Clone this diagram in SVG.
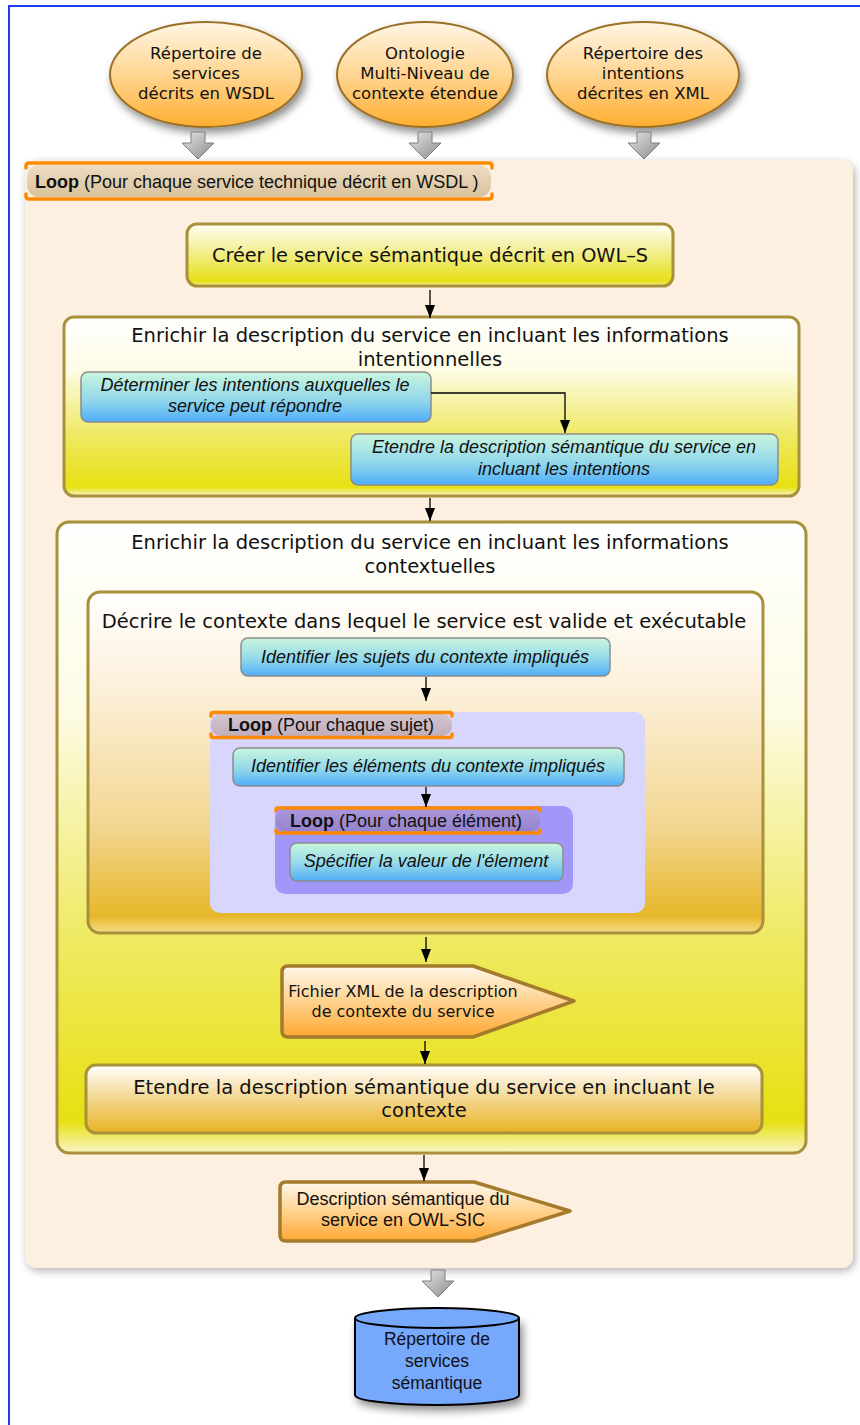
<svg xmlns="http://www.w3.org/2000/svg" width="860" height="1425" viewBox="0 0 860 1425">
<defs>
<style>
.lu{font-family:"DejaVu Sans",Verdana,sans-serif;fill:#111;}
.ar{font-family:"Liberation Sans",Arial,sans-serif;fill:#111;}
.it{font-family:"Liberation Sans",Arial,sans-serif;font-style:italic;font-size:18px;fill:#111;}
.ybox{fill:url(#gYel);stroke:#A8913A;stroke-width:3;}
.bbox{fill:url(#gBlue);stroke:#8C8C8C;stroke-width:1.5;}
.conn{fill:none;stroke:#000;stroke-width:1.3;marker-end:url(#ah);}
.brk{fill:none;stroke:#FF8A00;stroke-width:3.5;stroke-linecap:round;}
.garr{fill:url(#gGray);stroke:#7E7E7E;stroke-width:1;}
.pent{fill:url(#gOr);stroke:#A47A2C;stroke-width:3.5;stroke-linejoin:round;}
</style>
<linearGradient id="gYel" x1="0" y1="0" x2="0" y2="1">
<stop offset="0" stop-color="#FFFFF6"/><stop offset="0.35" stop-color="#F5F1A8"/><stop offset="0.92" stop-color="#E7E015"/><stop offset="1" stop-color="#F4F0A0"/>
</linearGradient>
<linearGradient id="gYel2" x1="0" y1="0" x2="0" y2="1">
<stop offset="0" stop-color="#FFFFFF"/><stop offset="0.3" stop-color="#FDFBE4"/><stop offset="0.65" stop-color="#EFEA66"/><stop offset="0.95" stop-color="#E7E012"/><stop offset="1" stop-color="#F8F5C8"/>
</linearGradient>
<linearGradient id="gGold" x1="0" y1="0" x2="0" y2="1">
<stop offset="0" stop-color="#FFFFFF"/><stop offset="0.3" stop-color="#FCEFD8"/><stop offset="0.7" stop-color="#F2D58E"/><stop offset="0.95" stop-color="#E7B72A"/><stop offset="1" stop-color="#F5DE8A"/>
</linearGradient>
<linearGradient id="gGold2" x1="0" y1="0" x2="0" y2="1">
<stop offset="0" stop-color="#FFFFFF"/><stop offset="0.5" stop-color="#F3D68E"/><stop offset="1" stop-color="#E8B323"/>
</linearGradient>
<linearGradient id="gBlue" x1="0" y1="0" x2="0" y2="1">
<stop offset="0" stop-color="#C9F6DE"/><stop offset="0.55" stop-color="#93D8EA"/><stop offset="1" stop-color="#4FAEF8"/>
</linearGradient>
<linearGradient id="gOr" x1="0" y1="0" x2="0" y2="1">
<stop offset="0" stop-color="#FFF8EC"/><stop offset="0.5" stop-color="#FFD28E"/><stop offset="1" stop-color="#FFA832"/>
</linearGradient>
<linearGradient id="gEll" x1="0" y1="0" x2="0" y2="1">
<stop offset="0" stop-color="#FFF6E4"/><stop offset="0.5" stop-color="#FFD592"/><stop offset="1" stop-color="#FFAE30"/>
</linearGradient>
<linearGradient id="gGray" x1="0" y1="0" x2="1" y2="1">
<stop offset="0" stop-color="#E6E6E6"/><stop offset="1" stop-color="#8A8A8A"/>
</linearGradient>
<linearGradient id="gTag" x1="0" y1="0" x2="0" y2="1">
<stop offset="0" stop-color="#EDDDC2"/><stop offset="1" stop-color="#D9C29C"/>
</linearGradient>
<linearGradient id="gTag2" x1="0" y1="0" x2="0" y2="1">
<stop offset="0" stop-color="#D3C5CF"/><stop offset="1" stop-color="#C0AEBB"/>
</linearGradient>
<linearGradient id="gTag3" x1="0" y1="0" x2="0" y2="1">
<stop offset="0" stop-color="#A996DA"/><stop offset="1" stop-color="#9482CC"/>
</linearGradient>
<filter id="sh" x="-20%" y="-20%" width="150%" height="160%">
<feDropShadow dx="3" dy="5" stdDeviation="4" flood-color="#000" flood-opacity="0.45"/>
</filter>
<filter id="shc" x="-5%" y="-5%" width="110%" height="110%">
<feDropShadow dx="2" dy="3" stdDeviation="4" flood-color="#000" flood-opacity="0.3"/>
</filter>
<marker id="ah" markerWidth="13" markerHeight="10" refX="13" refY="5" orient="auto" markerUnits="userSpaceOnUse">
<path d="M0,0 L13,5 L0,10 Z" fill="#000"/>
</marker>
<path id="garrow" d="M-7,0 H7 V11 H16 L0,27 L-16,11 H-7 Z"/>
</defs>

<rect x="0" y="0" width="860" height="1425" fill="#FFFFFF"/>
<path d="M9,1425 V6 H860" fill="none" stroke="#1D3CF2" stroke-width="2"/>

<g id="src-wsdl">
<ellipse cx="206" cy="74.5" rx="96" ry="52.5" fill="url(#gEll)" stroke="#9A7128" stroke-width="2" filter="url(#sh)"/>
<text class="lu" font-size="16.5" text-anchor="middle"><tspan x="206" y="59">Répertoire de</tspan><tspan x="206" y="79">services</tspan><tspan x="206" y="99">décrits en WSDL</tspan></text>
</g>
<g id="src-onto">
<ellipse cx="425" cy="74.5" rx="88" ry="52.5" fill="url(#gEll)" stroke="#9A7128" stroke-width="2" filter="url(#sh)"/>
<text class="lu" font-size="16.5" text-anchor="middle"><tspan x="425" y="59">Ontologie</tspan><tspan x="425" y="79">Multi-Niveau de</tspan><tspan x="425" y="99">contexte étendue</tspan></text>
</g>
<g id="src-intent">
<ellipse cx="643" cy="74.5" rx="96" ry="52.5" fill="url(#gEll)" stroke="#9A7128" stroke-width="2" filter="url(#sh)"/>
<text class="lu" font-size="16.5" text-anchor="middle"><tspan x="643" y="59">Répertoire des</tspan><tspan x="643" y="79">intentions</tspan><tspan x="643" y="99">décrites en XML</tspan></text>
</g>

<g id="loop-main">
<rect x="25" y="160" width="828" height="1108" rx="12" fill="#FDF0E1" filter="url(#shc)"/>
<rect x="27" y="165" width="464" height="32" rx="12" fill="url(#gTag)"/>
<path class="brk" d="M26,168 V166 Q26,163 29,163 H489 Q492,163 492,166 V168"/>
<path class="brk" d="M26,194 V196 Q26,199 29,199 H489 Q492,199 492,196 V194"/>
<text class="ar" x="35" y="188" font-size="18"><tspan font-weight="bold">Loop</tspan> (Pour chaque service technique décrit en WSDL )</text>
</g>

<g id="create">
<rect class="ybox" x="187" y="224" width="486" height="62" rx="10"/>
<text class="lu" x="430" y="262" font-size="19.3" text-anchor="middle">Créer le service sémantique décrit en OWL–S</text>
</g>

<g id="enrich-intent">
<rect class="ybox" x="64" y="317" width="735" height="179" rx="10" style="fill:url(#gYel2)"/>
<text class="lu" font-size="19.5" text-anchor="middle"><tspan x="430" y="342">Enrichir la description du service en incluant les informations</tspan><tspan x="430" y="366">intentionnelles</tspan></text>
</g>
<g id="determine">
<rect class="bbox" x="81" y="372" width="350" height="50" rx="7"/>
<text class="it" text-anchor="middle"><tspan x="255" y="391">Déterminer les intentions auxquelles le</tspan><tspan x="255" y="412">service peut répondre</tspan></text>
</g>
<g id="extend-intent">
<rect class="bbox" x="351" y="434" width="427" height="51" rx="7"/>
<text class="it" text-anchor="middle"><tspan x="564" y="453">Etendre la description sémantique du service en</tspan><tspan x="564" y="475">incluant les intentions</tspan></text>
</g>

<g id="enrich-context">
<rect class="ybox" x="57" y="522" width="749" height="631" rx="12" style="fill:url(#gYel2)"/>
<text class="lu" font-size="19.5" text-anchor="middle"><tspan x="430" y="549">Enrichir la description du service en incluant les informations</tspan><tspan x="430" y="573">contextuelles</tspan></text>
</g>
<g id="describe-context">
<rect class="ybox" x="88" y="592" width="675" height="341" rx="12" style="fill:url(#gGold)"/>
<text class="lu" x="424" y="628" font-size="19.5" text-anchor="middle">Décrire le contexte dans lequel le service est valide et exécutable</text>
</g>
<g id="identify-subjects">
<rect class="bbox" x="241" y="638" width="369" height="38" rx="7"/>
<text class="it" x="425" y="663" text-anchor="middle">Identifier les sujets du contexte impliqués</text>
</g>
<g id="loop-subject">
<rect x="210" y="712" width="435" height="201" rx="10" fill="#D8D6FC"/>
<rect x="211" y="714" width="241" height="22" rx="10" fill="url(#gTag2)"/>
<path class="brk" d="M211,716 V714.5 Q211,712.5 213,712.5 H450 Q452,712.5 452,714.5 V716"/>
<path class="brk" d="M211,734 V735.5 Q211,737.5 213,737.5 H450 Q452,737.5 452,735.5 V734"/>
<text class="ar" x="228" y="731" font-size="18"><tspan font-weight="bold">Loop</tspan> (Pour chaque sujet)</text>
</g>
<g id="identify-elements">
<rect class="bbox" x="233" y="748" width="391" height="38" rx="7"/>
<text class="it" x="428" y="772" text-anchor="middle">Identifier les éléments du contexte impliqués</text>
</g>
<g id="loop-element">
<rect x="275" y="806" width="298" height="88" rx="10" fill="#A197F9"/>
<rect x="276" y="810" width="264" height="22" rx="10" fill="url(#gTag3)"/>
<path class="brk" d="M276,811 V810 Q276,808 278,808 H538 Q540,808 540,810 V811"/>
<path class="brk" d="M276,830 V831 Q276,833 278,833 H538 Q540,833 540,831 V830"/>
<text class="ar" x="290" y="827" font-size="18"><tspan font-weight="bold">Loop</tspan> (Pour chaque élément)</text>
</g>
<g id="specify-value">
<rect class="bbox" x="290" y="843" width="273" height="38" rx="7"/>
<text class="it" x="426" y="867" text-anchor="middle">Spécifier la valeur de l'élement</text>
</g>
<g id="xml-file">
<path class="pent" d="M288,966 H473 L574,1001 L473,1037 H288 Q282,1037 282,1031 V972 Q282,966 288,966 Z"/>
<text class="lu" font-size="16" text-anchor="middle"><tspan x="403" y="997">Fichier XML de la description</tspan><tspan x="403" y="1017">de contexte du service</tspan></text>
</g>
<g id="extend-context">
<rect class="ybox" x="86" y="1065" width="676" height="68" rx="10" style="fill:url(#gGold2)"/>
<text class="lu" font-size="19.5" text-anchor="middle"><tspan x="424" y="1094">Etendre la description sémantique du service en incluant le</tspan><tspan x="424" y="1117">contexte</tspan></text>
</g>
<g id="owl-sic">
<path class="pent" d="M286,1182 H474 L570,1211 L474,1241 H286 Q280,1241 280,1235 V1188 Q280,1182 286,1182 Z"/>
<text class="ar" font-size="18" text-anchor="middle"><tspan x="403" y="1205">Description sémantique du</tspan><tspan x="403" y="1226">service en OWL-SIC</tspan></text>
</g>
<g id="semantic-repo">
<path d="M355,1318 V1395 A82,10 0 0 0 519,1395 V1318" fill="#76A8FC" stroke="#000" stroke-width="2" filter="url(#sh)"/>
<ellipse cx="437" cy="1318" rx="82" ry="10" fill="#76A8FC" stroke="#000" stroke-width="2"/>
<text class="ar" font-size="17.5" text-anchor="middle"><tspan x="437" y="1345">Répertoire de</tspan><tspan x="437" y="1367">services</tspan><tspan x="437" y="1389">sémantique</tspan></text>
</g>

<g id="connectors">
<use href="#garrow" class="garr" x="198" y="132"/>
<use href="#garrow" class="garr" x="425" y="132"/>
<use href="#garrow" class="garr" x="644" y="132"/>
<use href="#garrow" class="garr" x="438" y="1270"/>
<path class="conn" d="M430,290 V318"/>
<path class="conn" d="M431,393 H565 V433"/>
<path class="conn" d="M430,498 V521"/>
<path class="conn" d="M426,677 V701"/>
<path class="conn" d="M426,787 V807"/>
<path class="conn" d="M426,937 V962"/>
<path class="conn" d="M425,1041 V1064"/>
<path class="conn" d="M424,1155 V1181"/>
</g>
</svg>
